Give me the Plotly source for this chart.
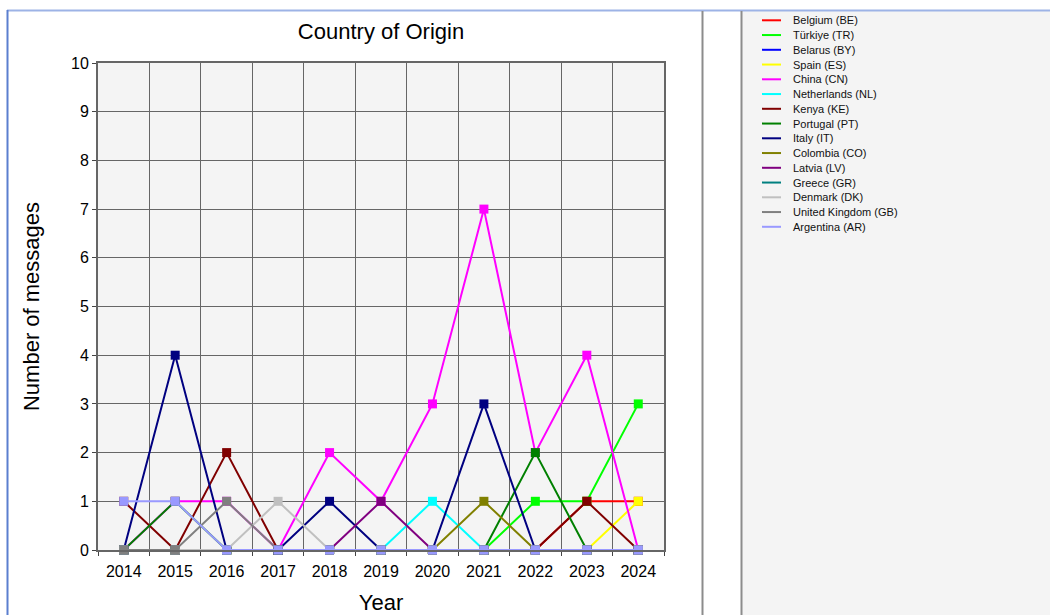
"""
Country of origin line chart, recreated with Plotly.
"""

import plotly.graph_objects as go

YEARS = ["2014", "2015", "2016", "2017", "2018", "2019", "2020", "2021", "2022", "2023", "2024"]

COUNTRIES = [
    "Belgium (BE)", "Türkiye (TR)", "Belarus (BY)", "Spain (ES)", "China (CN)",
    "Netherlands (NL)", "Kenya (KE)", "Portugal (PT)", "Italy (IT)", "Colombia (CO)",
    "Latvia (LV)", "Greece (GR)", "Denmark (DK)", "United Kingdom (GB)", "Argentina (AR)",
]

BE = [0, 0, 0, 0, 0, 0, 0, 0, 0, 1, 1]
TR = [0, 0, 0, 0, 0, 0, 0, 0, 1, 1, 3]
BY = [0, 0, 0, 0, 0, 0, 0, 0, 0, 0, 0]
ES = [0, 0, 0, 0, 0, 0, 0, 0, 0, 0, 1]
CN = [0, 1, 1, 0, 2, 1, 3, 7, 2, 4, 0]
NL = [0, 0, 0, 0, 0, 0, 1, 0, 0, 0, 0]
KE = [1, 0, 2, 0, 0, 0, 0, 0, 0, 1, 0]
PT = [0, 1, 0, 0, 0, 0, 0, 0, 2, 0, 0]
IT = [0, 4, 0, 0, 1, 0, 0, 3, 0, 0, 0]
CO = [0, 0, 0, 0, 0, 0, 0, 1, 0, 0, 0]
LV = [0, 0, 0, 0, 0, 1, 0, 0, 0, 0, 0]
GR = [0, 0, 0, 0, 0, 0, 0, 0, 0, 0, 0]
DK = [0, 0, 0, 1, 0, 0, 0, 0, 0, 0, 0]
GB = [0, 0, 1, 0, 0, 0, 0, 0, 0, 0, 0]
AR = [1, 1, 0, 0, 0, 0, 0, 0, 0, 0, 0]

SERIES = [BE, TR, BY, ES, CN, NL, KE, PT, IT, CO, LV, GR, DK, GB, AR]

COLORS = [
    "#ff0000", "#00ff00", "#0000ff", "#ffff00", "#ff00ff",
    "#00ffff", "#800000", "#008000", "#000080", "#808000",
    "#800080", "#008080", "#c0c0c0", "#808080", "#9999ff",
]

FONT = "Liberation Sans, Arial, sans-serif"

# plot area in pixels (figure is 1050 x 615)
W, H = 1050, 615
L, R, T, B = 98, 664, 63, 550


def px(x):
    return (x - L) / (R - L)


def py(y):
    return (B - y) / (B - T)


fig = go.Figure()

for name, vals, color in zip(COUNTRIES, SERIES, COLORS):
    fig.add_trace(go.Scatter(
        x=YEARS,
        y=vals,
        mode="lines+markers",
        name=name,
        line=dict(color=color, width=2),
        marker=dict(color=color, size=9, symbol="square"),
        cliponaxis=False,
        showlegend=False,
    ))

shapes = [
    # legend panel background
    dict(type="rect", xref="paper", yref="paper",
         x0=px(742), x1=px(W), y0=py(11), y1=py(H),
         fillcolor="#f4f4f4", line=dict(width=0), layer="below"),
    # frame lines
    dict(type="line", xref="paper", yref="paper",
         x0=px(7), x1=px(W), y0=py(10.5), y1=py(10.5),
         line=dict(color="#9db3e6", width=2)),
    dict(type="line", xref="paper", yref="paper",
         x0=px(7.5), x1=px(7.5), y0=py(10), y1=py(H),
         line=dict(color="#5b7fcf", width=2)),
    dict(type="line", xref="paper", yref="paper",
         x0=px(702.5), x1=px(702.5), y0=py(11), y1=py(H),
         line=dict(color="#8c8c8c", width=2)),
    dict(type="line", xref="paper", yref="paper",
         x0=px(741.5), x1=px(741.5), y0=py(11), y1=py(H),
         line=dict(color="#8c8c8c", width=2)),
]

# compact legend (plotly's own legend rows are too tall for this layout)
annotations = []
for i, (name, color) in enumerate(zip(COUNTRIES, COLORS)):
    yy = 20.3 + 14.75 * i
    shapes.append(dict(type="line", xref="paper", yref="paper",
                       x0=px(762), x1=px(781), y0=py(yy), y1=py(yy),
                       line=dict(color=color, width=2)))
    annotations.append(dict(xref="paper", yref="paper", x=px(791), y=py(yy),
                            xanchor="left", yanchor="middle", showarrow=False,
                            text=name, font=dict(family=FONT, size=11, color="#111")))

fig.update_layout(
    width=W,
    height=H,
    margin=dict(l=L, r=W - R, t=T, b=H - B, autoexpand=False),
    paper_bgcolor="white",
    plot_bgcolor="#f4f4f4",
    font=dict(family=FONT, color="black"),
    title=dict(text="Country of Origin", x=(L + R) / 2 / W, xanchor="center",
               y=1 - 31 / H, yanchor="middle", font=dict(size=22)),
    showlegend=False,
    shapes=shapes,
    annotations=annotations,
    xaxis=dict(
        type="category",
        range=[-0.5, len(YEARS) - 0.5],
        tickson="boundaries",
        ticks="outside",
        ticklen=4,
        tickcolor="#444",
        tickfont=dict(size=16),
        ticklabelstandoff=6,
        showgrid=True,
        gridcolor="#666",
        gridwidth=1,
        showline=True,
        linecolor="#666",
        linewidth=2,
        mirror=True,
        title=dict(text="Year", font=dict(size=22), standoff=16),
        fixedrange=True,
    ),
    yaxis=dict(
        range=[0, 10],
        dtick=1,
        ticks="outside",
        ticklen=4,
        tickcolor="#444",
        tickfont=dict(size=16),
        showgrid=True,
        gridcolor="#666",
        gridwidth=1,
        zeroline=False,
        showline=True,
        linecolor="#666",
        linewidth=2,
        mirror=True,
        title=dict(text="Number of messages", font=dict(size=22), standoff=25),
        fixedrange=True,
    ),
)

fig.write_html(
    "out.html",
    config={"displayModeBar": False},
    post_script="document.body.style.margin='0';",
)
